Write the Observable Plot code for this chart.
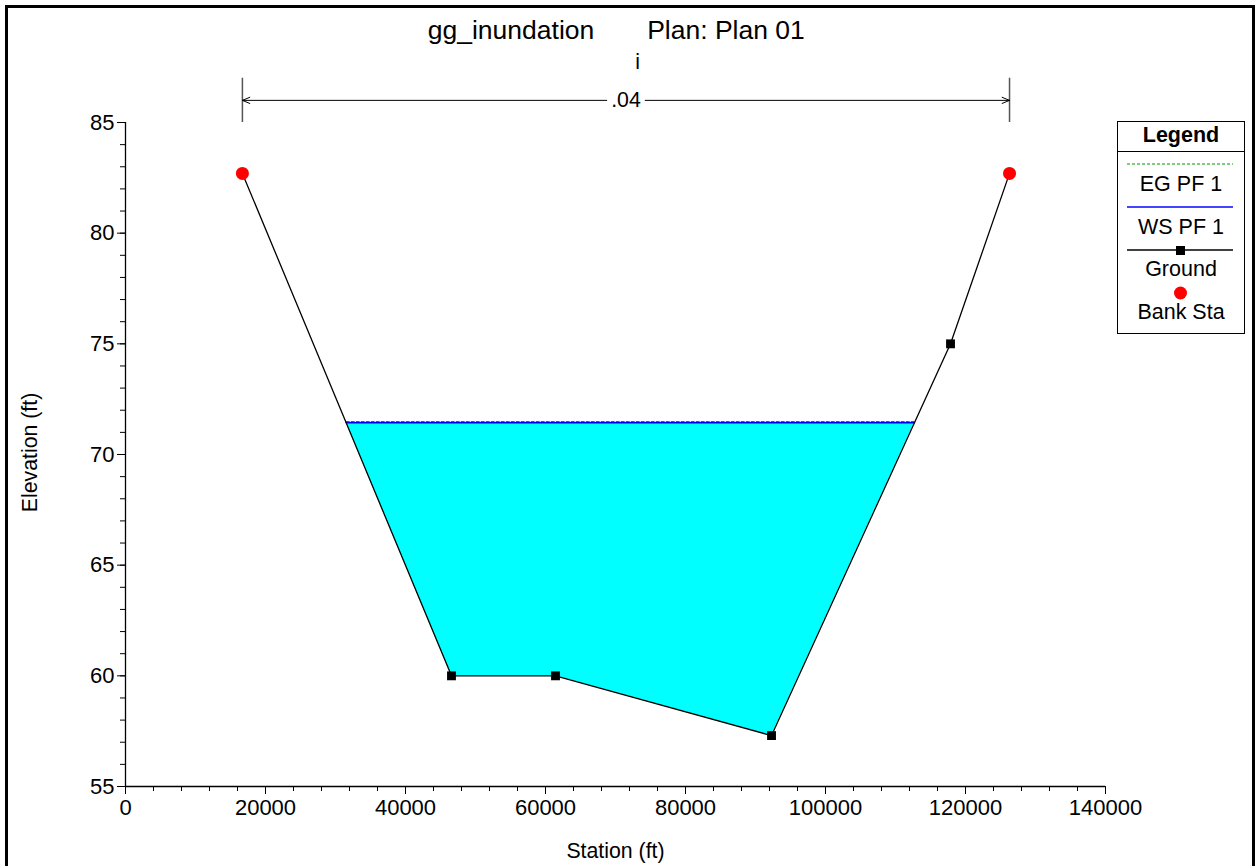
<!DOCTYPE html>
<html>
<head>
<meta charset="utf-8">
<script src="https://cdn.jsdelivr.net/npm/d3@7"></script>
<script src="https://cdn.jsdelivr.net/npm/@observablehq/plot@0.6"></script>
<style>
  html, body { margin: 0; padding: 0; background: #fff; }
  #wrap { position: relative; width: 1255px; height: 866px; overflow: hidden; font-family: "Liberation Sans", Arial, sans-serif; }
  #border { position: absolute; left: 5px; top: 5px; width: 1250px; height: 900px; border: 3px solid #000; box-sizing: border-box; pointer-events: none; }
  #legend { position: absolute; left: 1117px; top: 121px; width: 128px; height: 213px; border: 1px solid #000; background: #fff; box-sizing: border-box; color: #000; }
  #legend .t { position: absolute; left: 0; width: 100%; text-align: center; font-size: 21.5px; line-height: 22px; }
  #legend svg { position: absolute; left: 0; }
</style>
</head>
<body>
<div id="wrap">
  <div id="chart"></div>
  <div id="legend"></div>
  <div id="border"></div>
</div>
<script>
// ---- data ----
const titleLeft = "gg_inundation";
const titleRight = "Plan: Plan 01";
const reachLabel = "i";
const manningN = ".04";
const groundSta = [16700, 46570, 61430, 92290, 117860, 126290];
const groundElev = [82.7, 60.0, 60.0, 57.3, 75.0, 82.7];
const bankSta = [16700, 126290];
const bankElev = [82.7, 82.7];
const wsElev = 71.43;
const egElev = 71.49;
const xTicks = [0, 20000, 40000, 60000, 80000, 100000, 120000, 140000];
const yTicks = [55, 60, 65, 70, 75, 80, 85];
const xMinor = d3.range(0, 140001, 4000);
const yMinor = d3.range(55, 85.01, 1);
const legendNames = ["EG PF 1", "WS PF 1", "Ground", "Bank Sta"];

// ---- derived geometry ----
const ground = groundSta.map((s, i) => ({sta: s, elev: groundElev[i]}));
const banks = bankSta.map((s, i) => ({sta: s, elev: bankElev[i]}));
const isBank = s => bankSta.includes(s);

// water polygon: intersection of WS level with ground profile
function crossings(level) {
  const pts = [];
  for (let i = 0; i < ground.length - 1; i++) {
    const a = ground[i], b = ground[i + 1];
    if ((a.elev - level) * (b.elev - level) < 0) {
      const t = (level - a.elev) / (b.elev - a.elev);
      pts.push(a.sta + t * (b.sta - a.sta));
    }
  }
  return pts;
}
const [xl, xr] = crossings(wsElev);
const water = [{sta: xl, elev: wsElev}]
  .concat(ground.filter(d => d.sta > xl && d.sta < xr && d.elev < wsElev))
  .concat([{sta: xr, elev: wsElev}]);
const wsLine = [{sta: xl, elev: wsElev}, {sta: xr, elev: wsElev}];
const egLine = [{sta: xl, elev: egElev}, {sta: xr, elev: egElev}];

const nCenter = (bankSta[0] + bankSta[1]) / 2;
const gap = 2750;
const arrows = [
  {x1: nCenter - gap, x2: bankSta[0]},
  {x1: nCenter + gap, x2: bankSta[1]}
];

const font = "'Liberation Sans', Arial, sans-serif";

const chart = Plot.plot({
  width: 1255,
  height: 866,
  marginLeft: 125,
  marginRight: 150,
  marginTop: 122,
  marginBottom: 80,
  x: {domain: [0, 140000]},
  y: {domain: [55, 85]},
  style: {fontFamily: font, fontSize: "22px", background: "transparent", color: "#000", overflow: "visible"},
  marks: [
    // water fill
    Plot.areaY(water, {x: "sta", y1: "elev", y2: wsElev, fill: "#00ffff", curve: "linear"}),
    // EG and WS
    Plot.line(egLine, {x: "sta", y: "elev", stroke: "#009900", strokeWidth: 1.2, strokeDasharray: "3,2"}),
    Plot.line(wsLine, {x: "sta", y: "elev", stroke: "#0000ff", strokeWidth: 1.5}),
    // ground
    Plot.line(ground, {x: "sta", y: "elev", stroke: "#000", strokeWidth: 1.3}),
    Plot.dot(ground.filter(d => !isBank(d.sta)), {x: "sta", y: "elev", symbol: "square", r: 5, fill: "#000"}),
    Plot.dot(banks, {x: "sta", y: "elev", r: 6.5, fill: "#ff0000"}),
    // axes
    Plot.ruleY([55], {stroke: "#000", strokeWidth: 1.3}),
    Plot.ruleX([0], {stroke: "#000", strokeWidth: 1.3}),
    Plot.axisX({ticks: xTicks, tickSize: 8, tickPadding: 5, tickFormat: d => String(d), label: null, fontSize: 22}),
    Plot.axisX({ticks: xMinor, tickSize: 5, tickFormat: () => "", label: null}),
    Plot.axisY({ticks: yTicks, tickSize: 8, tickPadding: 3, tickFormat: d => String(d), label: null, fontSize: 22}),
    Plot.axisY({ticks: yMinor, tickSize: 5, tickFormat: () => "", label: null}),
    // axis labels
    Plot.text(["Station (ft)"], {frameAnchor: "bottom", lineAnchor: "middle", textAnchor: "middle", dy: 65, fontSize: 21.3}),
    Plot.text(["Elevation (ft)"], {frameAnchor: "left", lineAnchor: "middle", textAnchor: "middle", dx: -95, dy: -2, rotate: -90, fontSize: 21.3}),
    // titles
    Plot.text([titleLeft], {frameAnchor: "top", lineAnchor: "middle", textAnchor: "middle", dx: -104.5, dy: -92, fontSize: 26.5}),
    Plot.text([titleRight], {frameAnchor: "top", lineAnchor: "middle", textAnchor: "middle", dx: 110.5, dy: -92, fontSize: 26.5}),
    Plot.text([reachLabel], {frameAnchor: "top", lineAnchor: "middle", textAnchor: "middle", dx: 22, dy: -60, fontSize: 21.3}),
    // Manning's n bracket
    Plot.ruleX(bankSta, {y1: 85, y2: 87, stroke: "#555", strokeWidth: 1.5}),
    Plot.arrow(arrows, {x1: "x1", x2: "x2", y1: 86, y2: 86, stroke: "#000", strokeWidth: 1, headLength: 12, headAngle: 45}),
    Plot.text([manningN], {x: nCenter, frameAnchor: "top", lineAnchor: "middle", textAnchor: "middle", dy: -22, fontSize: 21.3})
  ]
});
document.getElementById("chart").appendChild(chart);

// ---- legend ----
const lg = document.getElementById("legend");
function addText(txt, top, bold) {
  const d = document.createElement("div");
  d.className = "t";
  d.textContent = txt;
  d.style.top = top + "px";
  if (bold) d.style.fontWeight = "bold";
  lg.appendChild(d);
}
function addSvg(top, inner) {
  const s = document.createElementNS("http://www.w3.org/2000/svg", "svg");
  s.setAttribute("width", 126);
  s.setAttribute("height", 16);
  s.style.top = (top - 8) + "px";
  s.innerHTML = inner;
  lg.appendChild(s);
}
addText("Legend", 2, true);
const sep = document.createElement("div");
sep.style.cssText = "position:absolute;left:0;top:29px;width:100%;height:1px;background:#000";
lg.appendChild(sep);
addSvg(42, '<line x1="9" x2="115" y1="8" y2="8" stroke="#009900" stroke-width="1.2" stroke-dasharray="3,2"/>');
addText(legendNames[0], 51);
addSvg(85, '<line x1="9" x2="115" y1="8" y2="8" stroke="#4444ff" stroke-width="2"/>');
addText(legendNames[1], 94);
addSvg(128, '<line x1="9" x2="115" y1="8" y2="8" stroke="#000" stroke-width="1.3"/><rect x="58" y="4" width="9" height="9" fill="#000"/>');
addText(legendNames[2], 136);
addSvg(171, '<circle cx="62.5" cy="8" r="6.5" fill="#ff0000"/>');
addText(legendNames[3], 179);
</script>
</body>
</html>
